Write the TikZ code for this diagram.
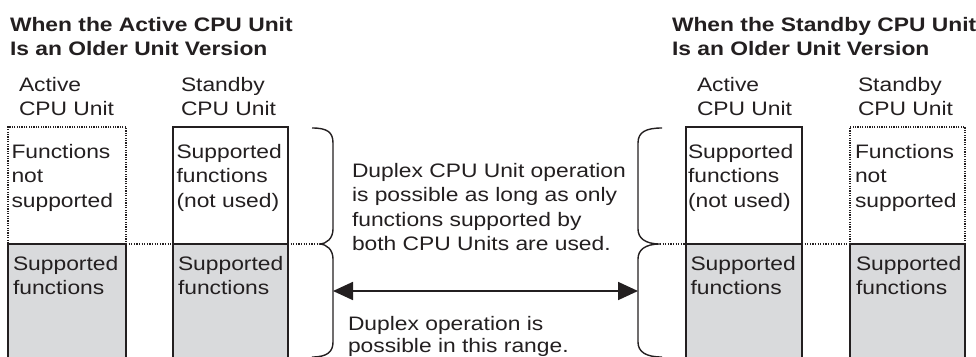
\documentclass[tikz,border=0pt]{standalone}
\usepackage{fontspec}
\setmainfont{Liberation Sans}[FakeStretch=1.17]
\usetikzlibrary{arrows.meta}
\definecolor{ink}{RGB}{35,31,32}
\definecolor{fillgray}{RGB}{217,218,220}
\begin{document}
\begin{tikzpicture}[x=1pt,y=-1pt,
  every node/.style={inner sep=0pt,outer sep=0pt},
  txt/.style={anchor=base west,text=ink,font=\fontsize{19.5}{24}\selectfont},
  head/.style={anchor=base west,text=ink,font=\fontsize{19.5}{24}\selectfont\bfseries},
  upper/.style={draw=ink,line width=1.8pt,anchor=north west,minimum height=117pt},
  upperdot/.style={draw=ink,line width=2pt,dash pattern=on 1.2pt off 1.2pt,anchor=north west,minimum height=117pt},
  lower/.style={draw=ink,line width=1.8pt,fill=fillgray,anchor=north west,minimum height=130pt},
  dotline/.style={draw=ink,line width=1.3pt,dash pattern=on 1.1pt off 1.5pt},
  bracket/.style={draw=ink,line width=1.4pt},
  dblarrow/.style={draw=ink,line width=1.8pt,{Triangle[length=20pt,width=18pt]}-{Triangle[length=20pt,width=18pt]}}
]
\useasboundingbox (0,0) rectangle (976,356);
\clip (0,0) rectangle (976,356);

% headings
\node[head] (h1a) at (10,31.7) {When the Active CPU Unit};
\node[head] (h1b) at (10,55.2) {Is an Older Unit Version};
\node[head] (h2a) at (672,31.7) {When the Standby CPU Unit};
\node[head] (h2b) at (672,55.2) {Is an Older Unit Version};

% column labels
\node[txt] (l1a) at (19,91.7) {Active};
\node[txt] (l1b) at (19,115.2) {CPU Unit};
\node[txt] (l2a) at (181,91.7) {Standby};
\node[txt] (l2b) at (181,115.2) {CPU Unit};
\node[txt] (l3a) at (697,91.7) {Active};
\node[txt] (l3b) at (697,115.2) {CPU Unit};
\node[txt] (l4a) at (858,91.7) {Standby};
\node[txt] (l4b) at (858,115.2) {CPU Unit};

% boxes: upper halves
\node[upperdot,minimum width=118pt] (aTop) at (8,127) {};
\node[upper,minimum width=115pt] (sTop) at (173,127) {};
\node[upper,minimum width=116pt] (raTop) at (686,127) {};
\node[upperdot,minimum width=115pt] (rsTop) at (850,127) {};
% lower halves
\node[lower,minimum width=118pt] (aBot) at (8,244) {};
\node[lower,minimum width=115pt] (sBot) at (173,244) {};
\node[lower,minimum width=116pt] (raBot) at (686,244) {};
\node[lower,minimum width=115pt] (rsBot) at (850,244) {};

% box texts
\node[txt] (t1a) at (11.5,158) {Functions};
\node[txt] (t1b) at (11.5,182.6) {not};
\node[txt] (t1c) at (11.5,207.2) {supported};
\node[txt] (t2a) at (176.5,158) {Supported};
\node[txt] (t2b) at (176.5,182.6) {functions};
\node[txt] (t2c) at (176.5,207.2) {(not used)};
\node[txt] (t3a) at (688,158) {Supported};
\node[txt] (t3b) at (688,182.6) {functions};
\node[txt] (t3c) at (688,207.2) {(not used)};
\node[txt] (t4a) at (855,158) {Functions};
\node[txt] (t4b) at (855,182.6) {not};
\node[txt] (t4c) at (855,207.2) {supported};

\node[txt] (b1a) at (13,270) {Supported};
\node[txt] (b1b) at (13,294) {functions};
\node[txt] (b2a) at (178,270) {Supported};
\node[txt] (b2b) at (178,294) {functions};
\node[txt] (b3a) at (690.5,270) {Supported};
\node[txt] (b3b) at (690.5,294) {functions};
\node[txt] (b4a) at (856,270) {Supported};
\node[txt] (b4b) at (856,294) {functions};

% brackets
\coordinate (ltip) at (319,244);
\coordinate (rtip) at (660,244);
\coordinate (lbody) at (333,291);
\coordinate (rbody) at (638,291);
\draw[bracket] (312,128) .. controls (327,128) and (333,132) .. (333,143) -- (333,229)
  .. controls (333,238) and (327,244) .. (ltip)
  .. controls (327,244) and (333,250) .. (333,259) -- (333,342)
  .. controls (333,352) and (327,357) .. (312,357);
\draw[bracket] (662,128) .. controls (646,128) and (638,132) .. (638,143) -- (638,229)
  .. controls (638,238) and (645,244) .. (rtip)
  .. controls (645,244) and (638,250) .. (638,259) -- (638,342)
  .. controls (638,352) and (646,357) .. (662,357);

% dotted connectors
\draw[dotline] (aTop.south east) -- (sTop.south west);
\draw[dotline] (sTop.south east) -- (ltip);
\draw[dotline] (rtip) -- (raTop.south west);
\draw[dotline] (raTop.south east) -- (rsTop.south west);

% arrow
\draw[dblarrow] (lbody) -- (rbody);

% middle texts
\node[txt] (m1) at (352,177.3) {Duplex CPU Unit operation};
\node[txt] (m2) at (352,201.7) {is possible as long as only};
\node[txt] (m3) at (352,226.1) {functions supported by};
\node[txt] (m4) at (352,250.5) {both CPU Units are used.};
\node[txt] (n1) at (348,330) {Duplex operation is};
\node[txt] (n2) at (348,352.5) {possible in this range.};
\end{tikzpicture}
\end{document}
